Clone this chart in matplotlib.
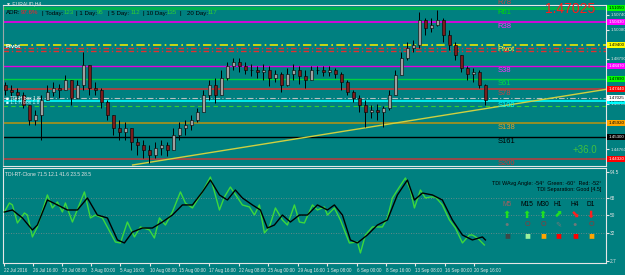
import matplotlib

matplotlib.use("Agg")
import matplotlib.pyplot as plt
from matplotlib.transforms import blended_transform_factory

plt.rcParams["font.family"] = ["Liberation Sans", "DejaVu Sans"]

BG = "#008080"
FG = "#E6E6E6"
W, H = 625, 275

# ---- EURAUD H4 candles (one entry per drawn bar) ----
first_open = 1.4762
bar_close = [1.4740, 1.4731, 1.4717, 1.4673, 1.4606, 1.4628, 1.4695, 1.4731, 1.4748, 1.4740,
             1.4784, 1.4704, 1.4762, 1.4851, 1.4748, 1.4740, 1.4686, 1.4628, 1.4570, 1.4552,
             1.4570, 1.4508, 1.4494, 1.4472, 1.4450, 1.4481, 1.4494, 1.4472, 1.4539, 1.4570,
             1.4583, 1.4606, 1.4641, 1.4717, 1.4762, 1.4717, 1.4793, 1.4847, 1.4864, 1.4847,
             1.4829, 1.4829, 1.4820, 1.4829, 1.4793, 1.4811, 1.4762, 1.4811, 1.4829, 1.4802,
             1.4784, 1.4829, 1.4829, 1.4820, 1.4829, 1.4811, 1.4775, 1.4731, 1.4704, 1.4673,
             1.4641, 1.4650, 1.4641, 1.4659, 1.4717, 1.4806, 1.4882, 1.4927, 1.4940, 1.5052,
             1.5016, 1.5029, 1.5052, 1.4985, 1.4940, 1.4896, 1.4838, 1.4811, 1.4820, 1.4762,
             1.4695]
bar_high = [1.4775, 1.4762, 1.4748, 1.4731, 1.4673, 1.4650, 1.4717, 1.4762, 1.4775, 1.4766,
            1.4806, 1.4762, 1.4784, 1.4909, 1.4793, 1.4775, 1.4748, 1.4695, 1.4628, 1.4606,
            1.4597, 1.4561, 1.4525, 1.4517, 1.4494, 1.4508, 1.4517, 1.4508, 1.4570, 1.4597,
            1.4606, 1.4628, 1.4659, 1.4740, 1.4784, 1.4793, 1.4829, 1.4864, 1.4882, 1.4882,
            1.4864, 1.4856, 1.4847, 1.4856, 1.4847, 1.4829, 1.4820, 1.4838, 1.4856, 1.4847,
            1.4829, 1.4847, 1.4847, 1.4847, 1.4847, 1.4838, 1.4820, 1.4784, 1.4740, 1.4717,
            1.4695, 1.4673, 1.4677, 1.4668, 1.4740, 1.4829, 1.4909, 1.4954, 1.4963, 1.5087,
            1.5061, 1.5061, 1.5096, 1.5061, 1.5007, 1.4954, 1.4896, 1.4847, 1.4838, 1.4829,
            1.4766]
bar_low = [1.4717, 1.4704, 1.4695, 1.4659, 1.4583, 1.4583, 1.4517, 1.4695, 1.4713, 1.4704,
           1.4740, 1.4673, 1.4704, 1.4740, 1.4717, 1.4717, 1.4659, 1.4606, 1.4539, 1.4517,
           1.4517, 1.4472, 1.4450, 1.4436, 1.4414, 1.4436, 1.4450, 1.4445, 1.4472, 1.4517,
           1.4539, 1.4561, 1.4597, 1.4650, 1.4695, 1.4682, 1.4717, 1.4784, 1.4829, 1.4820,
           1.4811, 1.4802, 1.4793, 1.4784, 1.4757, 1.4775, 1.4731, 1.4757, 1.4784, 1.4766,
           1.4748, 1.4793, 1.4811, 1.4802, 1.4802, 1.4793, 1.4740, 1.4717, 1.4686, 1.4641,
           1.4575, 1.4615, 1.4606, 1.4575, 1.4650, 1.4717, 1.4806, 1.4873, 1.4909, 1.4927,
           1.4985, 1.4998, 1.5025, 1.4954, 1.4918, 1.4873, 1.4820, 1.4784, 1.4775, 1.4748,
           1.4673]

bid = 1.47025
pips_text = "+36.0"

# ---- pivot / fibo levels ----
level_names = ["R61", "R38", "Pivot", "S38", "S61", "S78", "S100", "S138", "S161", "S200"]
level_prices = [1.5105, 1.5043, 1.4940, 1.4847, 1.4789, 1.4744, 1.4690, 1.4592, 1.4530, 1.4432]
r78_price = 1.5131
extra_red = [1.4927, 1.4913]
extra_green = 1.4668

trend_x = [21.2, 100.5]
trend_y = [1.4405, 1.4744]

price_ticks = [1.50740, 1.50080, 1.48790, 1.46780, 1.44760]

# ---- ADR header ----
adr_pct = "97.6%"
adr_today, adr_1, adr_5, adr_10, adr_20 = 123, 95, 112, 135, 117

# ---- TDI subwindow ----
green_x = [-0.17, 0.67, 1.17, 2.0, 3.17, 3.67, 4.5, 5.33, 7.0, 7.83, 8.67, 9.5, 10.0, 11.17,
           13.17, 14.17, 15.0, 16.17, 18.33, 19.17, 20.33, 21.5, 22.5, 24.0, 24.83, 25.67,
           26.67, 27.83, 29.17, 30.0, 31.17, 32.83, 34.17, 35.67, 36.5, 37.5, 39.5, 40.67,
           41.5, 42.33, 43.17, 44.0, 45.0, 46.17, 47.0, 48.17, 49.0, 49.83, 51.17, 52.0,
           53.17, 53.67, 54.83, 55.83, 57.33, 58.67, 59.17, 60.0, 61.17, 62.83, 63.67, 64.5,
           65.67, 66.67, 67.5, 68.17, 69.17, 70.0, 70.83, 71.67, 72.83, 74.0, 75.0, 76.17,
           77.33, 77.83, 78.67, 79.83]
green_y = [53.2, 62.5, 60.5, 41.9, 52.2, 50.1, 27.5, 37.8, 70.8, 57.4, 63.6, 53.2, 62.5, 42.9,
           73.9, 47.1, 50.1, 47.1, 22.3, 21.3, 42.9, 27.5, 37.8, 34.7, 26.4, 47.1,
           39.8, 53.2, 73.9, 62.5, 57.4, 73.9, 89.3, 55.3, 68.7, 79.0, 60.5, 58.4,
           50.1, 60.5, 31.6, 37.8, 57.4, 45.0, 39.8, 60.5, 42.9, 41.9, 60.5, 55.3,
           58.4, 50.1, 57.4, 45.0, 21.3, 22.3, 11.0, 29.5, 37.8, 37.8, 47.1, 67.7,
           79.0, 88.3, 75.9, 57.4, 75.9, 67.7, 68.7, 68.7, 60.5, 45.0, 36.7, 21.3,
           29.5, 29.5, 26.4, 19.2]
black_x = [-0.17, 1.17, 2.83, 4.5, 5.33, 7.0, 8.67, 10.33, 12.0, 13.67, 15.33, 17.0, 18.67,
           19.83, 21.17, 22.83, 24.5, 26.17, 27.83, 29.5, 31.17, 32.83, 34.17, 35.67, 37.0,
           38.33, 39.5, 41.17, 42.5, 43.67, 44.83, 46.17, 47.5, 49.0, 50.33, 52.0, 53.67,
           54.83, 56.17, 57.5, 58.67, 60.33, 62.0, 63.67, 65.33, 67.0, 68.17, 69.5, 71.17,
           72.83, 74.5, 76.17, 77.83, 79.5, 80.0]
black_y = [53.2, 55.3, 47.1, 34.7, 39.8, 65.6, 60.5, 55.3, 55.3, 67.7, 50.1, 47.1, 24.4,
           21.3, 32.6, 36.7, 36.7, 42.9, 50.1, 60.5, 60.5, 73.9, 86.2, 70.8, 65.6,
           75.9, 67.7, 60.5, 55.3, 36.7, 39.8, 50.1, 42.9, 50.1, 50.1, 60.5, 55.3,
           60.5, 50.1, 24.4, 21.3, 29.5, 39.8, 45.0, 70.8, 86.2, 65.6, 72.8, 70.8,
           65.6, 45.0, 29.5, 24.4, 27.5, 24.4]
tdi_levels = [68, 50, 32]
tdi_ticks = [94.5, 68, 50, 32, 2.7]
tdi_title = "TDI-RT-Clone 71.5 12.1 41.6 23.5 28.5"

date_pos = [-0.17, 4.67, 9.5, 14.33, 19.17, 24.17, 29.0, 34.0, 39.0, 43.83, 48.83, 53.67,
            58.67, 63.5, 68.33, 73.33, 78.17]
date_labels = ["22 Jul 2016", "26 Jul 16:00", "29 Jul 08:00", "3 Aug 00:00", "5 Aug 16:00",
               "10 Aug 08:00", "15 Aug 00:00", "17 Aug 16:00", "22 Aug 08:00", "25 Aug 00:00",
               "29 Aug 16:00", "1 Sep 08:00", "6 Sep 00:00", "8 Sep 16:00", "13 Sep 08:00",
               "16 Sep 00:00", "20 Sep 16:00"]

timeframes = ["M5", "M15", "M30", "H1", "H4", "D1"]
tf_arrows = ["⬆", "⬆", "⬆", "⬈", "⬊", "⬇"]
tf_arrow_up = [True, True, True, True, False, False]
tf_state = ["●", "O", "O", "✎", "●", "O"]
tf_square = ["#3C4848", "#9CF09C", "#FFA500", "#FF0000", "#FF0000", "#FFA500"]

# ---------------- styling ----------------
lev_color = ["#00B050", "#E000E0", "#E8E800", "#E000E0", "#00D040", "#B04040",
             "#00FFFF", "#A09020", "#000000", "#B04040"]
lev_text = ["#00E000", "#FF30FF", "#FFFF40", "#FF30FF", "#00E040", "#D04040",
            "#00FFFF", "#E0A030", "#000000", "#D03030"]
lev_box = ["#00FF00", "#FF00FF", "#FFFF00", "#FF00FF", "#00FF00", "#FF0000",
           "#00FFFF", "#FFA500", "#000000", "#FF0000"]
lev_boxtxt = ["black", "white", "black", "white", "black", "white",
              "black", "black", "white", "white"]
lev_lw = [2.2, 1.3, 1.2, 1.0, 1.0, 1.3, 1.2, 1.3, 1.0, 1.2]
lev_ls = ["-", "-", (0, (5, 2, 1, 2)), "-", "-", "-", "-", "-", "-", "-"]

fig = plt.figure(figsize=(W / 100, H / 100), dpi=100)
fig.patch.set_facecolor(BG)


def box(x0, y0, x1, y1):
    return [x0 / W, 1 - y1 / H, (x1 - x0) / W, (y1 - y0) / H]


def ftxt(x, y, s, size, color, ha="left", **kw):
    fig.text(x / W, 1 - y / H, s, fontsize=size, color=color, ha=ha, va="center", **kw)


ax = fig.add_axes(box(3, 5, 606, 166))
ax2 = fig.add_axes(box(3, 168, 606, 263))
for a in (ax, ax2):
    a.set_facecolor(BG)
    for s in a.spines.values():
        s.set_color(FG)
        s.set_linewidth(0.8)
    a.set_xlim(-0.4, 100.1)
ax.spines["left"].set_color("#9AA8A8")
ax.set_ylim(1.44005, 1.51186)
ax2.set_ylim(0.63, 98.6)

# ---- main chart ----
for p, c, lw, ls in zip(level_prices, lev_color, lev_lw, lev_ls):
    ax.axhline(p, color=c, lw=lw, ls=ls, zorder=1)
for p in extra_red:
    ax.axhline(p, color="#E03030", lw=1.0, ls=(0, (4, 2, 1, 2)), zorder=1)
ax.axhline(extra_green, color="#30D030", lw=0.8, ls=(0, (4, 3)), zorder=1)
ax.axhline(bid, color="#B8C0C0", lw=0.8, ls=(0, (5, 2, 1, 2)), zorder=1)

ax.plot(trend_x, trend_y, color="#D0D040", lw=1.0, zorder=2)

xs = list(range(len(bar_close)))
bar_open = [first_open] + bar_close[:-1]
hi = [max(h, o, c) for h, o, c in zip(bar_high, bar_open, bar_close)]
lo = [min(l, o, c) for l, o, c in zip(bar_low, bar_open, bar_close)]
ax.vlines(xs, lo, hi, color="black", lw=0.7, zorder=3)
bottoms = [min(o, c) for o, c in zip(bar_open, bar_close)]
heights = [max(abs(c - o), 0.00008) for o, c in zip(bar_open, bar_close)]
cols = ["#A0A0A0" if c >= o else "#7A1C1C" for o, c in zip(bar_open, bar_close)]
ax.bar(xs, heights, bottom=bottoms, width=0.55, color=cols, edgecolor="black",
       linewidth=0.4, zorder=4)

for n, p, tc in zip(level_names, level_prices, lev_text):
    ax.annotate(n, (82, p), xytext=(0, -3), textcoords="offset points", fontsize=5.5,
                color=tc, va="center", ha="left", zorder=6)
ax.text(82, r78_price, "R78", fontsize=5.5, color="#D04040", va="center", ha="left",
        clip_on=False)

ax.yaxis.tick_right()
ax.set_yticks(price_ticks)
ax.set_yticklabels([f"{p:.5f}" for p in price_ticks])
ax.tick_params(axis="y", labelsize=3.2, colors=FG, length=2, pad=1)
ax.set_xticks([])

tr = blended_transform_factory(ax.transAxes, ax.transData)
for p, fc, tc in zip(level_prices, lev_box, lev_boxtxt):
    ax.text(1.004, p, f"{p:.5f}", transform=tr, fontsize=3.2, color=tc, va="center",
            ha="left", clip_on=False,
            bbox=dict(boxstyle="square,pad=0.25", fc=fc, ec="none"))
ax.text(1.004, bid, f"{bid:.5f}", transform=tr, fontsize=3.2, color="black", va="center",
        ha="left", clip_on=False, bbox=dict(boxstyle="square,pad=0.25", fc="white", ec="none"))

# ---- header texts ----
ftxt(6, 4, "▼ EURAUD,H4", 3.6, FG)
AS = 4.4
ftxt(6, 13, "ADR:", AS, "black")
ftxt(21, 13, adr_pct, AS, "#FF2020")
ftxt(42, 13, "| Today:", AS, "black")
ftxt(64, 13, str(adr_today), AS, "#30D030")
ftxt(76, 13, "| 1 Day:", AS, "black")
ftxt(97, 13, str(adr_1), AS, "#30D030")
ftxt(108, 13, "| 5 Day:", AS, "black")
ftxt(131, 13, str(adr_5), AS, "#30D030")
ftxt(143, 13, "| 10 Day:", AS, "black")
ftxt(167, 13, str(adr_10), AS, "#30D030")
ftxt(180, 13, "|", AS, "black")
ftxt(187, 13, "20 Day:", AS, "black")
ftxt(208, 13, str(adr_20), AS, "#30D030")
ftxt(545, 9, f"{bid:.5f}", 10, "#FF1A1A")
ftxt(573, 150, pips_text, 7, "#40C040")
ftxt(6, 47, "Pivot", 4.4, "white", fontweight="bold")
ftxt(6, 98, "■ TDI H box 1.8", 3.4, "white")
ftxt(6, 103, "■ 1:1 H box 1.8", 3.4, "#D0FFFF")

# ---- TDI subwindow ----
for v in tdi_levels:
    ax2.axhline(v, color="#7E8C8C", lw=0.6, ls=(0, (1, 2)), zorder=1)
ax2.plot(green_x, green_y, color="#3CD83C", lw=1.0, zorder=3)
ax2.plot(black_x, black_y, color="black", lw=1.0, zorder=4)
ax2.yaxis.tick_right()
ax2.set_yticks(tdi_ticks)
ax2.set_yticklabels([f"{v:g}" for v in tdi_ticks])
ax2.tick_params(axis="y", labelsize=3.4, colors=FG, length=2, pad=1)
ax2.set_xticks(date_pos)
ax2.set_xticklabels(date_labels, ha="left")
ax2.tick_params(axis="x", labelsize=3.25, colors=FG, length=2, pad=1.5)
ftxt(5, 174, tdi_title, 3.6, FG)

ftxt(601, 183, "TDI WAvg Angle: -54°  Green: -60°  Red: -52°", 3.9, "black", ha="right")
ftxt(601, 190, "TDI Separation: Good [4.5]", 3.9, "black", ha="right")
col_x = [507, 527, 543, 558, 575, 591]
for i, (cx, tf) in enumerate(zip(col_x, timeframes)):
    ftxt(cx, 204, tf, 4.8, "#A06060" if i == 0 else "black", ha="center")
    ftxt(cx, 215, tf_arrows[i], 7, "#20E020" if tf_arrow_up[i] else "#FF2020",
         ha="center", fontweight="bold")
    st = tf_state[i]
    ftxt(cx, 225, st, 5.2, "#707878" if st in ("●", "✎") else "#8A3A3A", ha="center")
    ftxt(cx, 235, "■", 7, tf_square[i], ha="center")

fig.savefig("out.png", dpi=100, facecolor=BG)
